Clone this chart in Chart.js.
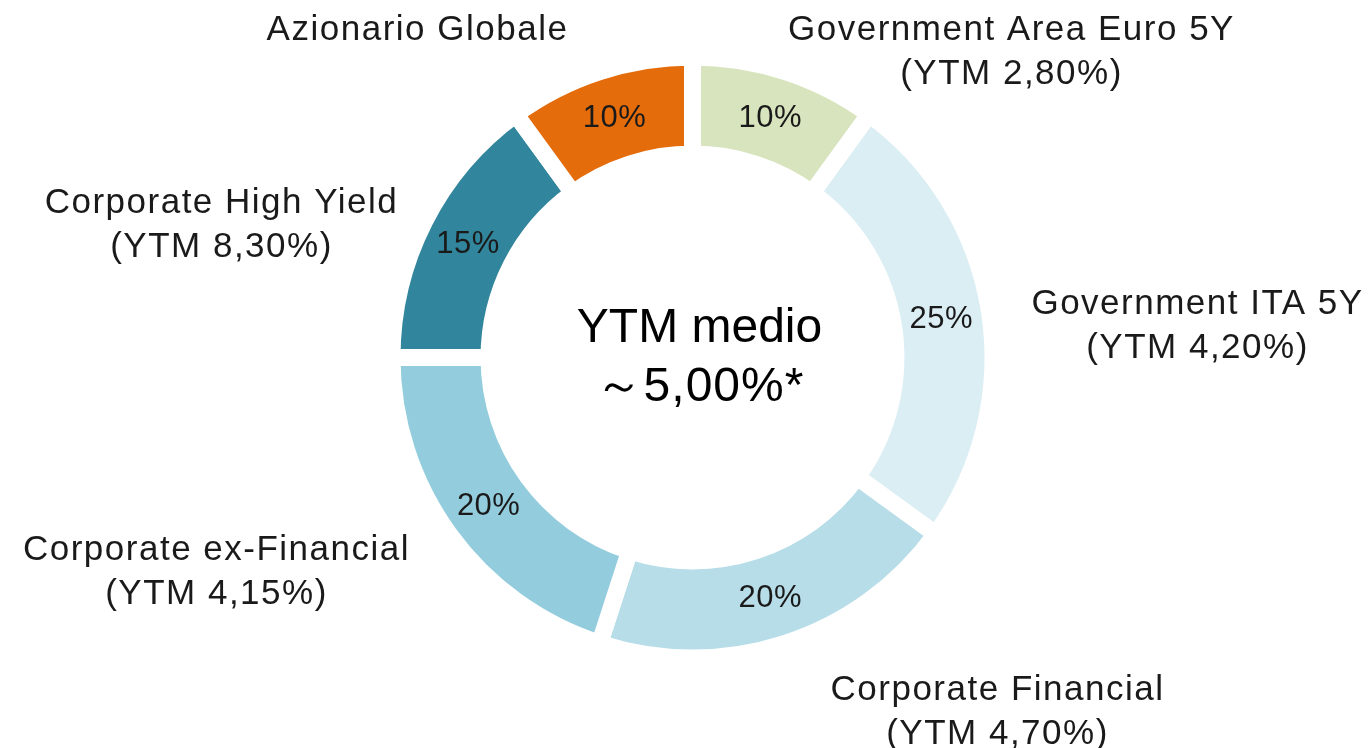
<!DOCTYPE html>
<html>
<head>
<meta charset="utf-8">
<script src="https://cdn.jsdelivr.net/npm/chart.js@4.4.1/dist/chart.umd.min.js"></script>
<style>
  html, body { margin: 0; padding: 0; background: #fff; }
  #wrap { position: relative; width: 1371px; height: 748px; }
</style>
</head>
<body>
<div id="wrap"><canvas id="ytmChart"></canvas></div>
<script>
// dati del grafico
const categorie = ['Government Area Euro 5Y', 'Government ITA 5Y', 'Corporate Financial',
                   'Corporate ex-Financial', 'Corporate High Yield', 'Azionario Globale'];
const pesi = [10, 25, 20, 20, 15, 10];
const ytm = ['2,80%', '4,20%', '4,70%', '4,15%', '8,30%', null];
const colori = ['#d8e4bd', '#dbeef4', '#b7dde8', '#93cddd', '#31859c', '#e46c0a'];
const ytmMedio = ['YTM medio', '～5,00%*'];

// posizione delle etichette esterne rispetto al centro (dx, dy)
const posEtichette = [[319, -305], [505, -31], [305, 355], [-476, 215], [-471, -132], [-275, -327]];

const FONT = '"Liberation Sans", Arial, sans-serif';

// Plugin per percentuali, etichette esterne e testo centrale
const etichettePlugin = {
    id: 'etichette',
    afterDatasetsDraw(chart) {
        const ctx = chart.ctx;
        const meta = chart.getDatasetMeta(0);
        ctx.save();
        ctx.textAlign = 'center';
        ctx.textBaseline = 'middle';
        ctx.fillStyle = '#1a1a1a';

        meta.data.forEach((arc, i) => {
            const p = arc.getProps(['x', 'y', 'startAngle', 'endAngle', 'innerRadius', 'outerRadius'], true);
            const mid = (p.startAngle + p.endAngle) / 2;
            const r = (p.innerRadius + p.outerRadius) / 2;

            // percentuale dentro il segmento
            ctx.font = '31px ' + FONT;
            ctx.letterSpacing = '0.5px';
            ctx.fillText(pesi[i] + '%', p.x + Math.cos(mid) * r, p.y + Math.sin(mid) * r + 1);

            // etichetta esterna
            ctx.font = '35px ' + FONT;
            ctx.letterSpacing = '1.5px';
            const lx = p.x + posEtichette[i][0];
            const ly = p.y + posEtichette[i][1];
            if (ytm[i]) {
                ctx.fillText(categorie[i], lx, ly - 22);
                ctx.fillText('(YTM ' + ytm[i] + ')', lx, ly + 22);
            } else {
                ctx.fillText(categorie[i], lx, ly);
            }
        });

        // testo centrale
        const c = meta.data[0];
        ctx.fillStyle = '#000';
        ctx.letterSpacing = '0px';
        ctx.font = '48px ' + FONT;
        ctx.fillText(ytmMedio[0], c.x + 7, c.y - 29);
        ctx.letterSpacing = '1px';
        ctx.fillText(ytmMedio[1], c.x + 7, c.y + 30);
        ctx.restore();
    }
};

const canvas = document.getElementById('ytmChart');
canvas.width = 1371;
canvas.height = 748;

new Chart(canvas, {
    type: 'doughnut',
    data: {
        labels: categorie,
        datasets: [{
            data: pesi,
            backgroundColor: colori,
            borderColor: '#fff',
            borderWidth: 17
        }]
    },
    options: {
        responsive: false,
        animation: false,
        cutout: '67.7%',
        layout: {
            padding: { left: 383.5, right: 369.5, top: 48.5, bottom: 81.5 }
        },
        plugins: {
            legend: { display: false },
            tooltip: { enabled: false }
        }
    },
    plugins: [etichettePlugin]
});
</script>
</body>
</html>
